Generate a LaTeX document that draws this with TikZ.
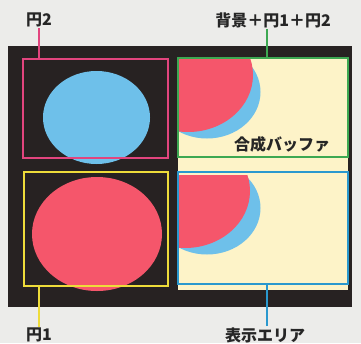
\documentclass[tikz,border=0pt]{standalone}
\usepackage{fontspec}
\setmainfont{Noto Sans CJK JP}
\usepackage{tikz}
\usetikzlibrary{calc}

\definecolor{pagegray}{HTML}{ECECEA}
\definecolor{panel}{HTML}{272222}
\definecolor{cream}{HTML}{FDF3C8}
\definecolor{circred}{HTML}{F5566B}
\definecolor{circblue}{HTML}{6EC0EA}
\definecolor{framepink}{HTML}{E2457E}
\definecolor{frameyellow}{HTML}{EEDC3A}
\definecolor{framegreen}{HTML}{3DA852}
\definecolor{frameblue}{HTML}{2A98CE}

\tikzset{
  frame/.style={draw, rectangle, line width=2pt, inner sep=0pt},
  lbl/.style={font=\fontsize{16}{16}\selectfont\bfseries, text=black!85, inner sep=1pt},
  leader/.style={line width=2pt}
}

\begin{document}
\begin{tikzpicture}[x=1pt, y=-1pt]
		\useasboundingbox (0,0) rectangle (361,343);
		\fill[pagegray] (0,0) rectangle (361,343);

		% Panel and buffers
		\fill[panel] (8,46) rectangle (352,307);
		\fill[cream] (178,58) rectangle (348,290);

		% Circles
		\fill[circblue] (96.5,117.5) ellipse [x radius=53.5pt, y radius=46.5pt];
		\fill[circred] (97,234) ellipse [x radius=65pt, y radius=57pt];

		% Composed images
		\begin{scope}
			\clip (178,58) rectangle (348,157);
			\fill[circblue] (207,92) ellipse [x radius=53.5pt, y radius=46.5pt];
			\fill[circred] (188,75) ellipse [x radius=65pt, y radius=57pt];
		\end{scope}
		\begin{scope}
			\clip (178,175) rectangle (348,284);
			\fill[circblue] (207,208) ellipse [x radius=53.5pt, y radius=46.5pt];
			\fill[circred] (185,191) ellipse [x radius=65pt, y radius=57pt];
		\end{scope}

		% Nodes
		\node[frame, draw=framepink, minimum width=145pt, minimum height=99pt] (circB) at (95.5,108.5) {};
		\node[frame, draw=frameyellow, minimum width=144pt, minimum height=114pt] (circA) at (95.5,229) {};
		\node[frame, draw=framegreen, minimum width=170pt, minimum height=99pt] (buffer) at (263,107.5) {};
		\node[frame, draw=frameblue, minimum width=170pt, minimum height=112pt] (display) at (263,228) {};

		\node[lbl] (lblB) at (39,20) {円2};
		\node[lbl] (lblSum) at (273,20) {背景＋円1＋円2};
		\node[lbl] (lblBuf) at (282,144) {合成バッファ};
		\node[lbl] (lblA) at (39,335) {円1};
		\node[lbl] (lblDisp) at (265,335) {表示エリア};

		% Leaders
		\draw[leader, framepink] (lblB.south) -- (lblB.south |- circB.north);
		\draw[leader, framegreen] ($(lblSum.south)+(-6,0)$) -- ($(lblSum.south |- buffer.north)+(-6,0)$);
		\draw[leader, frameyellow] (lblA.north) -- (lblA.north |- circA.south);
		\draw[leader, frameblue] ($(lblDisp.north)+(2,0)$) -- ($(lblDisp.north |- display.south)+(2,0)$);
	\end{tikzpicture}
\end{document}
